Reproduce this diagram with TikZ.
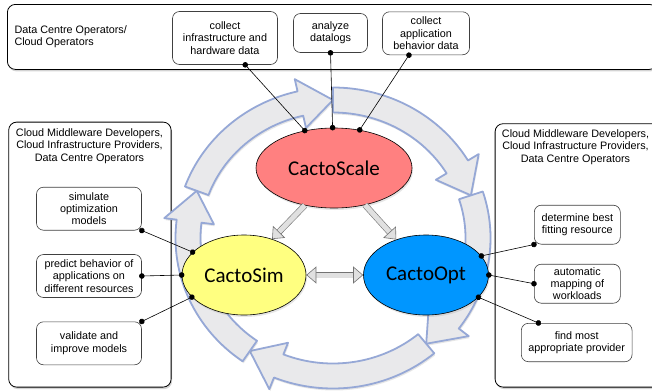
\documentclass[tikz,border=0pt]{standalone}
\usepackage{fontspec}
\setmainfont{Liberation Sans}
\newfontfamily\calfont{Carlito}
\usetikzlibrary{shapes.geometric,arrows.meta,calc,shadows}
\definecolor{ringfill}{RGB}{233,233,235}
\definecolor{ringedge}{RGB}{150,168,214}
\definecolor{scalefill}{RGB}{255,128,128}
\definecolor{simfill}{RGB}{255,255,128}
\definecolor{optfill}{RGB}{0,150,255}

\newcommand\cycarrow[2]{%
  \pgfmathsetmacro\cytail{-(#1)}
  \pgfmathsetmacro\cytip{-(#2)}
  \pgfmathsetmacro\cyhead{\cytip-13}
  \filldraw[ring] ($(hub)+(\cytail:157.5 and 150.5)$)
    arc[start angle=\cytail, end angle=\cyhead, x radius=157.5, y radius=150.5]
    -- ($(hub)+(\cyhead:170 and 163)$) -- ($(hub)+(\cytip:145 and 138)$)
    -- ($(hub)+(\cyhead:120 and 113)$) -- ($(hub)+(\cyhead:132.5 and 125.5)$)
    arc[start angle=\cyhead, end angle=\cytail, x radius=132.5, y radius=125.5]
    -- cycle;
}

\begin{document}
\begin{tikzpicture}[x=1pt,y=-1pt,
  every node/.style={font=\fontsize{10.8}{12.4}\selectfont},
  grp/.style={draw, rounded corners=8pt, fill=white, line width=0.8pt,
    drop shadow={opacity=0.35, shadow xshift=1pt, shadow yshift=-2pt}},
  task/.style={draw=black!75, rounded corners=7pt, fill=white, align=center,
    inner sep=0pt, line width=0.6pt},
  tool/.style={ellipse, draw, inner sep=0pt, line width=0.6pt,
    font=\calfont\fontsize{21}{25}\selectfont,
    drop shadow={opacity=0.2, shadow xshift=1pt, shadow yshift=-2pt}},
  ring/.style={draw=ringedge, line width=1.8pt, fill=ringfill, line join=round,
    drop shadow={opacity=0.2, shadow xshift=1pt, shadow yshift=-2pt}},
  hollowtip/.tip={Triangle[length=10pt, width=17pt, fill=black!12]},
  hollow/.style={draw=black!55, line width=0.6pt, double=black!12,
    double distance=5pt, -hollowtip},
  link/.style={draw, line width=0.6pt,
    {Circle[length=5.5pt]}-{Circle[length=5.5pt]},
    shorten <=-2.7pt, shorten >=-2.7pt}]
  \useasboundingbox (0,0) rectangle (652,391);

  \node[grp, anchor=north west, minimum width=650pt, minimum height=65pt] (ops) at (7,4) {};
  \node[anchor=west, align=left] (opsname) at (11,37) {Data Centre Operators/\\Cloud Operators};
  \node[grp, anchor=north west, minimum width=162.4pt, minimum height=265pt] (devleft) at (8.3,121.7) {};
  \node[align=center] (devleftname) at (89.5,146) {Cloud Middleware Developers,\\Cloud Infrastructure Providers,\\Data Centre Operators};
  \node[grp, anchor=north west, minimum width=165pt, minimum height=263.4pt] (devright) at (494.7,123.3) {};
  \node[align=center] (devrightname) at (575.5,147) {Cloud Middleware Developers,\\Cloud Infrastructure Providers,\\Data Centre Operators};

  \node[task, minimum width=105pt, minimum height=53pt] (collectinfra) at (225,38) {collect\\infrastructure and\\hardware data};
  \node[task, minimum width=74pt, minimum height=39pt] (analyze) at (330.5,33) {analyze\\datalogs};
  \node[task, minimum width=87pt, minimum height=43pt] (collectapp) at (426,33.3) {collect\\application\\behavior data};

  \node[task, minimum width=105pt, minimum height=43pt] (simulate) at (89,208.7) {simulate\\optimization\\models};
  \node[task, minimum width=105pt, minimum height=43pt] (predict) at (89,276) {predict behavior of\\applications on\\different resources};
  \node[task, minimum width=105pt, minimum height=43pt] (validate) at (89,343.3) {validate and\\improve models};

  \node[task, minimum width=86pt, minimum height=39pt] (determine) at (577.3,224.7) {determine best\\fitting resource};
  \node[task, minimum width=86pt, minimum height=39pt] (mapping) at (577.3,283.7) {automatic\\mapping of\\workloads};
  \node[task, minimum width=110.7pt, minimum height=38.4pt] (provider) at (576.7,342.5) {find most\\appropriate provider};

  \coordinate (hub) at (333,238);
  \foreach \a/\b in {160/90, 90/18, 18/-50, -50/-125, -125/-200}
    \cycarrow{\a}{\b};

  \node[tool, fill=scalefill, minimum width=156pt, minimum height=80pt] (scale) at (334,168) {CactoScale};
  \node[tool, fill=simfill, minimum width=124pt, minimum height=80pt] (sim) at (244,275) {CactoSim};
  \node[tool, fill=optfill, minimum width=125pt, minimum height=80pt] (opt) at (426,275) {CactoOpt};

  \draw[hollow] (scale.-128) -- (sim.52);
  \draw[hollow] (scale.-50) -- (opt.130);
  \draw[hollow, hollowtip-hollowtip] (sim.east) -- (opt.west);

  \draw[link] (collectinfra.-53) -- (scale.128);
  \draw[link] (analyze.south) -- (scale.92);
  \draw[link] (collectapp.-128) -- (scale.56);
  \draw[link] (simulate.south east) -- (sim.156);
  \draw[link] (predict.east) -- (sim.west);
  \draw[link] (validate.north east) -- (sim.203);
  \draw[link] (determine.south west) -- (opt.19);
  \draw[link] (mapping.west) -- (opt.east);
  \draw[link] (provider.153) -- (opt.-23);
\end{tikzpicture}
\end{document}
